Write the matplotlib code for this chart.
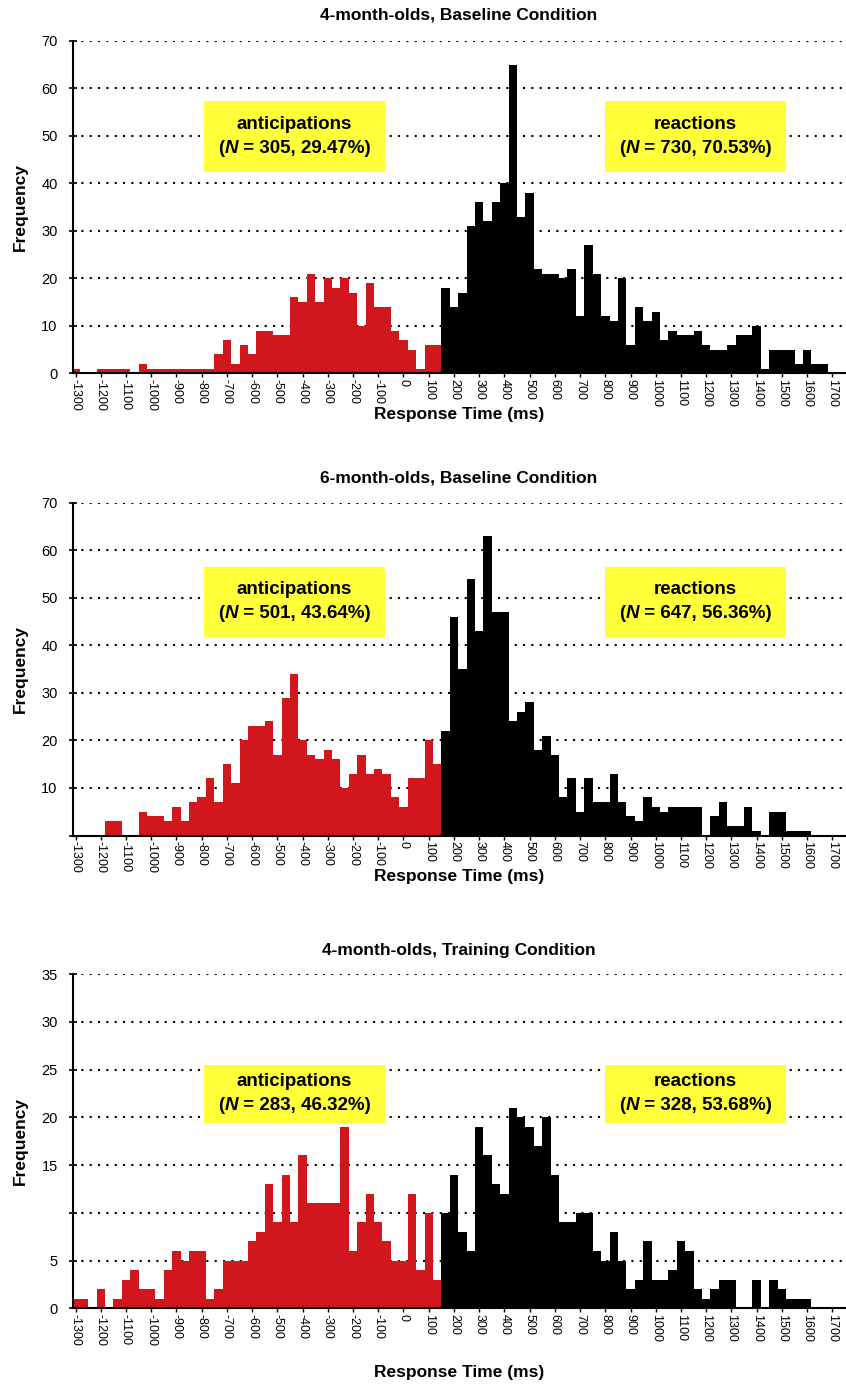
import matplotlib
matplotlib.use('Agg')
import matplotlib.pyplot as plt
from matplotlib.patches import Rectangle
from matplotlib.offsetbox import TextArea, HPacker, VPacker, AnnotationBbox

FONT = 'Liberation Sans'
plt.rcParams['font.family'] = [FONT, 'DejaVu Sans']

# bins are 1/30 s wide, first bin centred on -1300 ms; reactions start at 150 ms
bin_width = 100 / 3
first_center = -1300

base4_antic = [1, 0, 0, 1, 1, 1, 1, 0, 2, 1, 1, 1, 1, 1, 1, 1, 1, 4, 7, 2, 6, 4,
               9, 9, 8, 8, 16, 15, 21, 15, 20, 18, 20, 17, 10, 19, 14, 14, 9, 7, 5, 1, 6, 6]
base4_react = [18, 14, 17, 31, 36, 32, 36, 40, 65, 33, 38, 22, 21, 21, 20, 22, 12, 27, 21, 12, 11, 20, 6,
               14, 11, 13, 7, 9, 8, 8, 9, 6, 5, 5, 6, 8, 8, 10, 1, 5, 5, 5, 2, 5, 2, 2, 0]

base6_antic = [0, 0, 0, 0, 3, 3, 0, 0, 5, 4, 4, 3, 6, 3, 7, 8, 12, 7, 15, 11, 20, 23,
               23, 24, 17, 29, 34, 20, 17, 16, 18, 16, 10, 13, 17, 13, 14, 13, 8, 6, 12, 12, 20, 15]
base6_react = [22, 46, 35, 54, 43, 63, 47, 47, 24, 26, 28, 18, 21, 17, 8, 12, 5, 12, 7, 7, 13, 7, 4, 3,
               8, 6, 5, 6, 6, 6, 6, 0, 4, 7, 2, 2, 6, 1, 0, 5, 5, 1, 1, 1, 0, 0, 0]

train4_antic = [1, 1, 0, 2, 0, 1, 3, 4, 2, 2, 1, 4, 6, 5, 6, 6, 1, 2, 5, 5, 5, 7,
                8, 13, 9, 14, 9, 16, 11, 11, 11, 11, 19, 6, 9, 12, 9, 7, 5, 5, 12, 4, 10, 3]
train4_react = [10, 14, 8, 6, 19, 16, 13, 12, 21, 20, 19, 17, 20, 14, 9, 9, 10, 10, 6, 5, 8, 5, 2, 3,
                7, 3, 3, 4, 7, 6, 2, 1, 2, 3, 3, 0, 0, 3, 0, 3, 2, 1, 1, 1, 0, 0, 0]

titles = ['4-month-olds, Baseline Condition',
          '6-month-olds, Baseline Condition',
          '4-month-olds, Training Condition']
antic_notes = [(305, '29.47'), (501, '43.64'), (283, '46.32')]
react_notes = [(730, '70.53'), (647, '56.36'), (328, '53.68')]
xticks = list(range(-1300, 1701, 100))

RED = '#d2161d'
YELLOW = '#ffff3a'

W, H = 846, 1385
fig = plt.figure(figsize=(W / 100, H / 100), dpi=100)

# pixel layout: axes top, axes bottom, ymax, ystep, hidden label, box y range,
# title y, xlabel y
panels = [
    (41, 373.3, 70, 10, None, (42.4, 57.4), 15, 414),
    (502.7, 835.5, 70, 10, 0, (41.8, 56.5), 478, 876),
    (974, 1308.3, 35, 5, 10, (19.4, 25.5), 950, 1373),
]
data = [(base4_antic, base4_react), (base6_antic, base6_react), (train4_antic, train4_react)]
ax_left, ax_right = 73, 845


def note(ax, x0, x1, y0, y1, label, n, pct):
    ax.add_patch(Rectangle((x0, y0), x1 - x0, y1 - y0, facecolor=YELLOW,
                           edgecolor='none', zorder=4))
    tp = dict(fontsize=13.5, fontweight='bold', family=FONT, color='black')
    line1 = TextArea(label, textprops=tp)
    parts = [TextArea('(', textprops=tp),
             TextArea('N', textprops=dict(tp, fontstyle='italic')),
             TextArea(f' = {n}, {pct}%)', textprops=tp)]
    line2 = HPacker(children=parts, align='baseline', pad=0, sep=0)
    box = VPacker(children=[line1, line2], align='center', pad=0, sep=5)
    ab = AnnotationBbox(box, ((x0 + x1) / 2, (y0 + y1) / 2), xycoords='data',
                        frameon=False, box_alignment=(0.5, 0.5), zorder=5)
    ax.add_artist(ab)


for i, (top, bot, ymax, ystep, hidden, (by0, by1), ty, xly) in enumerate(panels):
    ax = fig.add_axes([ax_left / W, 1 - bot / H, (ax_right - ax_left) / W, (bot - top) / H])
    antic, react = data[i]
    xa = [first_center + k * bin_width for k in range(len(antic))]
    xr = [first_center + (len(antic) + k) * bin_width for k in range(len(react))]
    ax.bar(xa, antic, width=bin_width, color=RED, linewidth=0, zorder=2)
    ax.bar(xr, react, width=bin_width, color='black', linewidth=0, zorder=2)

    ax.set_xlim(-1310, 1750)
    ax.set_ylim(0, ymax)
    yt = list(range(0, ymax + 1, ystep))
    ax.set_yticks(yt)
    ax.set_yticklabels(['' if v == hidden else str(v) for v in yt], fontsize=10.5)
    ax.set_xticks(xticks)
    ax.set_xticklabels([str(v) for v in xticks], rotation=-90, fontsize=9)
    ax.tick_params(axis='y', direction='inout', length=6, width=1.2, pad=8)
    ax.tick_params(axis='x', direction='out', length=3, width=1.0, pad=1)
    for v in yt[1:]:
        ax.axhline(v, color='black', linestyle=(0, (1, 3)), linewidth=1.5, zorder=1)

    for s in ('top', 'right'):
        ax.spines[s].set_visible(False)
    ax.spines['left'].set_linewidth(1.5)
    ax.spines['bottom'].set_linewidth(1.5)

    cx = (ax_left + ax_right) / 2 / W
    fig.text(cx, 1 - ty / H, titles[i], fontsize=12.5, fontweight='bold',
             ha='center', va='center')
    fig.text(cx, 1 - xly / H, 'Response Time (ms)', fontsize=12.5, fontweight='bold',
             ha='center', va='center')
    fig.text(20 / W, 1 - (top + bot) / 2 / H, 'Frequency', fontsize=12.5, fontweight='bold',
             rotation=90, ha='center', va='center')

    note(ax, -790, -75, by0, by1, 'anticipations', *antic_notes[i])
    note(ax, 800, 1515, by0, by1, 'reactions', *react_notes[i])

fig.savefig('out.png', dpi=100)
